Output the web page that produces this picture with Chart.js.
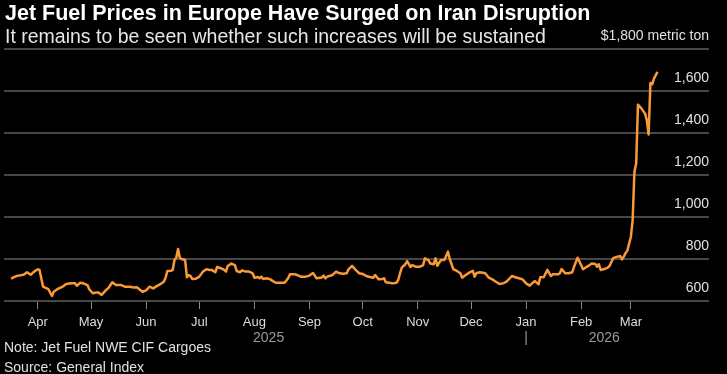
<!DOCTYPE html>
<html>
<head>
<meta charset="utf-8">
<script src="https://cdn.jsdelivr.net/npm/chart.js@4/dist/chart.umd.min.js"></script>
<style>
  html, body { margin: 0; padding: 0; background: #000; }
  #wrap { position: relative; width: 727px; height: 374px; overflow: hidden; font-family: "Liberation Sans", Arial, sans-serif; }
  #wrap div { position: absolute; white-space: nowrap; line-height: 1; }
  #title { left: 5px; top: 3px; font-size: 21.5px; font-weight: bold; color: #fff; }
  #subtitle { left: 5px; top: 27px; font-size: 19.5px; color: #e6e6e6; }
  #note { left: 4px; top: 340px; font-size: 14px; color: #e0e0e0; }
  #source { left: 4px; top: 360px; font-size: 14px; color: #e0e0e0; }
  canvas { position: absolute; left: 0; top: 0; }
</style>
</head>
<body>
<div id="wrap">
  <canvas id="chart" width="727" height="374"></canvas>
  <div id="title">Jet Fuel Prices in Europe Have Surged on Iran Disruption</div>
  <div id="subtitle">It remains to be seen whether such increases will be sustained</div>
  <div id="note">Note: Jet Fuel NWE CIF Cargoes</div>
  <div id="source">Source: General Index</div>
</div>
<script>
// price readings, $ per metric ton
const dates = [
  "2025-03-17", "2025-03-18", "2025-03-20", "2025-03-22", "2025-03-24", "2025-03-26", "2025-03-28", "2025-03-30",
  "2025-04-01", "2025-04-02", "2025-04-04", "2025-04-06", "2025-04-07", "2025-04-09", "2025-04-10", "2025-04-12",
  "2025-04-15", "2025-04-17", "2025-04-20", "2025-04-22", "2025-04-23", "2025-04-25", "2025-04-27", "2025-04-29",
  "2025-04-30", "2025-05-02", "2025-05-04", "2025-05-05", "2025-05-07", "2025-05-09", "2025-05-11", "2025-05-13",
  "2025-05-15", "2025-05-18", "2025-05-20", "2025-05-23", "2025-05-25", "2025-05-27", "2025-05-28", "2025-05-30",
  "2025-06-01", "2025-06-03", "2025-06-05", "2025-06-07", "2025-06-09", "2025-06-11", "2025-06-12", "2025-06-13",
  "2025-06-15", "2025-06-16", "2025-06-17", "2025-06-18", "2025-06-19", "2025-06-20", "2025-06-21", "2025-06-23",
  "2025-06-24", "2025-06-25", "2025-06-26", "2025-06-27", "2025-06-29", "2025-07-01", "2025-07-03", "2025-07-05",
  "2025-07-07", "2025-07-08", "2025-07-10", "2025-07-11", "2025-07-13", "2025-07-15", "2025-07-16", "2025-07-17",
  "2025-07-19", "2025-07-21", "2025-07-22", "2025-07-24", "2025-07-25", "2025-07-27", "2025-07-29", "2025-07-31",
  "2025-08-01", "2025-08-03", "2025-08-04", "2025-08-05", "2025-08-06", "2025-08-08", "2025-08-10", "2025-08-11",
  "2025-08-13", "2025-08-16", "2025-08-18", "2025-08-20", "2025-08-21", "2025-08-24", "2025-08-25", "2025-08-27",
  "2025-08-30", "2025-09-01", "2025-09-03", "2025-09-04", "2025-09-05", "2025-09-08", "2025-09-09", "2025-09-10",
  "2025-09-11", "2025-09-14", "2025-09-16", "2025-09-18", "2025-09-20", "2025-09-22", "2025-09-23", "2025-09-25",
  "2025-09-27", "2025-09-29", "2025-10-01", "2025-10-03", "2025-10-05", "2025-10-07", "2025-10-08", "2025-10-10",
  "2025-10-12", "2025-10-13", "2025-10-14", "2025-10-16", "2025-10-18", "2025-10-20", "2025-10-21", "2025-10-22",
  "2025-10-23", "2025-10-25", "2025-10-26", "2025-10-28", "2025-10-29", "2025-10-31", "2025-11-02", "2025-11-04",
  "2025-11-05", "2025-11-07", "2025-11-08", "2025-11-10", "2025-11-11", "2025-11-12", "2025-11-14", "2025-11-16",
  "2025-11-18", "2025-11-19", "2025-11-21", "2025-11-23", "2025-11-25", "2025-11-26", "2025-11-28", "2025-11-30",
  "2025-12-02", "2025-12-03", "2025-12-04", "2025-12-06", "2025-12-09", "2025-12-11", "2025-12-13", "2025-12-15",
  "2025-12-17", "2025-12-19", "2025-12-21", "2025-12-24", "2025-12-26", "2025-12-28", "2025-12-30", "2026-01-01",
  "2026-01-03", "2026-01-05", "2026-01-06", "2026-01-08", "2026-01-09", "2026-01-11", "2026-01-13", "2026-01-15",
  "2026-01-16", "2026-01-19", "2026-01-20", "2026-01-21", "2026-01-23", "2026-01-25", "2026-01-27", "2026-01-28",
  "2026-01-30", "2026-02-01", "2026-02-02", "2026-02-05", "2026-02-07", "2026-02-09", "2026-02-10", "2026-02-11",
  "2026-02-12", "2026-02-14", "2026-02-16", "2026-02-17", "2026-02-19", "2026-02-21", "2026-02-23", "2026-02-24",
  "2026-02-25", "2026-02-26", "2026-02-27", "2026-03-01", "2026-03-02", "2026-03-03", "2026-03-04", "2026-03-05",
  "2026-03-07", "2026-03-09", "2026-03-10", "2026-03-11", "2026-03-12", "2026-03-13", "2026-03-14", "2026-03-16"
];

const prices = [
  706, 711, 719, 722, 725, 737, 725, 740,
  751, 748, 668, 660, 656, 624, 644, 656,
  668, 681, 684, 684, 673, 687, 683, 676,
  656, 637, 640, 641, 629, 648, 664, 689,
  676, 676, 668, 668, 664, 665, 657, 644,
  651, 668, 660, 671, 680, 692, 711, 743,
  744, 748, 795, 806, 848, 806, 800, 795,
  713, 724, 719, 705, 706, 716, 740, 751,
  748, 748, 737, 762, 756, 748, 740, 767,
  778, 771, 743, 737, 746, 740, 740, 732,
  711, 714, 708, 716, 705, 708, 703, 697,
  687, 687, 687, 708, 727, 727, 724, 716,
  716, 721, 733, 721, 708, 712, 721, 708,
  716, 724, 740, 732, 730, 732, 751, 767,
  748, 732, 729, 719, 714, 711, 724, 703,
  705, 708, 689, 687, 684, 687, 700, 732,
  759, 775, 790, 762, 771, 763, 763, 771,
  803, 795, 779, 775, 803, 768, 795, 795,
  835, 800, 752, 743, 732, 711, 724, 735,
  744, 716, 732, 737, 732, 711, 703, 692,
  681, 684, 692, 719, 713, 708, 703, 684,
  673, 689, 695, 679, 713, 714, 748, 719,
  727, 727, 732, 752, 732, 732, 737, 763,
  806, 771, 751, 767, 779, 776, 763, 775,
  748, 752, 759, 767, 804, 810, 814, 798,
  811, 828, 840, 905, 985, 1215, 1255, 1535,
  1516, 1492, 1460, 1393, 1638, 1632, 1659, 1691
];

// axis labels
const monthNames = ["Jan", "Feb", "Mar", "Apr", "May", "Jun", "Jul", "Aug", "Sep", "Oct", "Nov", "Dec"];
const monthTicks = ["2025-04-01", "2025-05-01", "2025-06-01", "2025-07-01", "2025-08-01", "2025-09-01",
  "2025-10-01", "2025-11-01", "2025-12-01", "2026-01-01", "2026-02-01", "2026-03-01"];
const yearLabels = ["2025", "|", "2026"];
const yearLabelDates = ["2025-08-09", "2026-01-01", "2026-02-14"];
const axisStart = "2025-03-13";
const axisEnd = "2026-04-14";
const unitLabel = "$1,800 metric ton";

// dates -> day numbers so a linear scale can be used without a date adapter
const toDay = function (s) {
  return Date.parse(s + "T00:00:00Z") / 864e5;
};

const points = dates.map(function (d, i) {
  return { x: toDay(d), y: prices[i] };
});

const font = "'Liberation Sans', Arial, sans-serif";

new Chart(document.getElementById("chart"), {
  type: "line",
  data: {
    datasets: [
      {
        data: points,
        borderColor: "#fb9935",
        borderWidth: 2.5,
        pointRadius: 0,
        tension: 0,
        borderJoinStyle: "round",
      },
    ],
  },
  options: {
    responsive: false,
    animation: false,
    devicePixelRatio: 1,
    layout: { padding: { left: 4, right: 18, top: 49, bottom: 26 } },
    plugins: { legend: { display: false }, tooltip: { enabled: false } },
    scales: {
      x: {
        type: "linear",
        position: "bottom",
        min: toDay(axisStart),
        max: toDay(axisEnd),
        afterBuildTicks: function (scale) {
          scale.ticks = monthTicks.map(function (d) {
            return { value: toDay(d) };
          });
        },
        afterFit: function (scale) {
          scale.height = 29; // fixed so the year row sits where it should
        },
        ticks: {
          autoSkip: false,
          maxRotation: 0,
          padding: 6,
          color: "#dcdcdc",
          font: { family: font, size: 13 },
          callback: function (value) {
            const i = monthTicks.findIndex(function (d) {
              return toDay(d) === value;
            });
            return monthNames[new Date(monthTicks[i]).getUTCMonth()];
          },
        },
        grid: { drawOnChartArea: false, drawTicks: true, tickLength: 8, color: "#8a8a8a", lineWidth: 1 },
        border: { display: false },
      },
      year: {
        type: "linear",
        position: "bottom",
        min: toDay(axisStart),
        max: toDay(axisEnd),
        afterBuildTicks: function (scale) {
          scale.ticks = yearLabelDates.map(function (d) {
            return { value: toDay(d) };
          });
        },
        afterFit: function (scale) {
          scale.height = 18;
        },
        ticks: {
          autoSkip: false,
          maxRotation: 0,
          padding: 0,
          color: "#9a9a9a",
          font: { family: font, size: 14 },
          callback: function (value, i) {
            return yearLabels[i];
          },
        },
        grid: { display: false, drawTicks: false },
        border: { display: false },
      },
      y: {
        position: "right",
        min: 600,
        max: 1800,
        afterBuildTicks: function (scale) {
          const t = [];
          for (let v = 600; v <= 1800; v += 200) t.push({ value: v });
          scale.ticks = t;
        },
        ticks: {
          mirror: true,
          padding: 0,
          labelOffset: -13,
          color: "#e0e0e0",
          font: { family: font, size: 14 },
          callback: function (value) {
            return value === 1800 ? unitLabel : value.toLocaleString("en-US");
          },
        },
        grid: { color: "#474747", lineWidth: 2, drawTicks: false },
        border: { display: false },
      },
    },
  },
});
</script>
</body>
</html>
